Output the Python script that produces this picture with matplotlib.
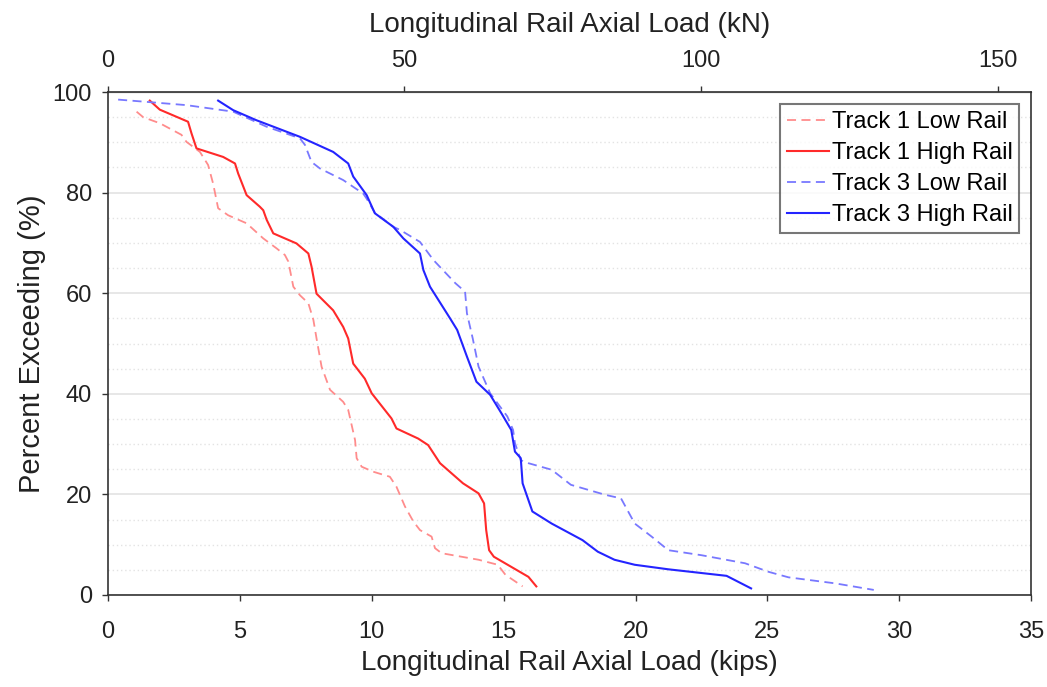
import numpy as np
import matplotlib
matplotlib.use('Agg')
from matplotlib import pyplot as plt
from matplotlib.ticker import MultipleLocator

KN_PER_KIP = 4.448

# Track 1 low rail
t1_low_kips = [1.09, 1.34, 1.97, 2.79, 2.98, 3.49, 3.80, 3.99, 4.18, 4.56, 5.26, 5.89, 6.40, 6.71,
               6.84, 7.03, 7.28, 7.60, 7.79, 7.91, 8.10, 8.42, 8.92, 9.11, 9.37, 9.43, 9.62, 10.06,
               10.69, 10.94, 11.26, 11.58, 11.83, 12.27, 12.40, 12.65, 14.05, 14.78, 15.07, 15.72]
t1_low_pct = [96.1, 95.0, 93.8, 91.5, 90.1, 88.1, 85.5, 81.8, 76.9, 75.5, 73.9, 70.9, 68.9, 67.6,
              66.3, 61.3, 59.6, 58.0, 54.7, 51.0, 45.4, 40.8, 38.4, 36.8, 30.8, 27.2, 25.5, 24.5,
              23.5, 21.5, 17.6, 14.6, 12.9, 11.6, 9.3, 8.3, 7.0, 6.0, 4.0, 1.7]

# Track 1 high rail
t1_high_kips = [1.59, 1.97, 3.04, 3.17, 3.36, 4.37, 4.82, 4.94, 5.26, 5.76, 5.89, 6.02, 6.27, 7.15,
                7.60, 7.72, 7.91, 8.54, 8.92, 9.11, 9.30, 9.74, 10.0, 10.75, 10.94, 11.76, 12.14,
                12.59, 13.46, 14.05, 14.26, 14.34, 14.45, 14.63, 15.94, 16.24]
t1_high_pct = [98.3, 96.5, 94.1, 91.8, 88.8, 87.1, 85.8, 83.8, 79.5, 77.2, 76.5, 74.6, 71.9, 69.9,
               67.9, 65.3, 59.9, 56.6, 53.3, 51.0, 46.0, 43.0, 40.1, 35.1, 33.1, 31.1, 29.8,
               26.2, 22.2, 20.2, 18.2, 12.9, 8.9, 7.6, 3.6, 1.7]

# Track 3 low rail
t3_low_kips = [0.39, 1.34, 2.98, 4.75, 6.02, 7.28, 7.47, 7.72, 8.04, 8.92, 9.68, 9.81, 10.12, 10.82,
               11.07, 11.83, 12.34, 12.70, 13.17, 13.54, 13.61, 13.83, 14.05, 14.49, 15.14, 15.36,
               15.43, 15.65, 15.94, 16.82, 17.55, 18.86, 19.45, 19.97, 20.61, 21.24, 22.50, 24.15,
               25.04, 25.80, 27.57, 29.03]
t3_low_pct = [98.5, 98.1, 97.4, 96.1, 93.1, 90.8, 89.5, 86.1, 84.8, 82.5, 79.8, 78.8, 76.0, 73.2,
              72.6, 70.2, 66.6, 64.6, 62.0, 60.3, 56.0, 51.0, 45.4, 40.1, 35.5, 32.8,
              30.2, 26.8, 26.2, 24.9, 21.9, 19.9, 19.2, 14.2, 11.6, 8.9, 7.9, 6.3,
              4.6, 3.5, 2.3, 1.0]

# Track 3 high rail
t3_high_kips = [4.18, 4.75, 5.63, 7.28, 8.54, 9.11, 9.30, 9.81, 10.12, 10.82, 11.20, 11.83, 11.96,
                12.21, 12.97, 13.24, 13.61, 13.97, 14.49, 14.92, 15.29, 15.43, 15.65, 15.72, 16.09,
                16.82, 17.99, 18.57, 19.20, 19.97, 21.24, 23.45, 24.38]
t3_high_pct = [98.3, 96.4, 94.4, 91.1, 88.1, 85.8, 83.2, 79.5, 75.9, 73.2, 70.9, 67.9, 64.6,
               61.3, 55.0, 52.7, 47.4, 42.4, 39.8, 36.1, 32.8, 28.5, 27.2, 22.2, 16.6,
               14.2, 10.9, 8.6, 7.0, 6.0, 5.1, 3.8, 1.3]


def main():
    plt.rcParams['font.family'] = ['Liberation Sans', 'DejaVu Sans']
    fig = plt.figure(figsize=(10.47, 6.87), dpi=100)
    ax = fig.add_axes([0.103, 0.134, 0.882, 0.732])

    ax.plot(t1_low_kips, t1_low_pct, color='#ff8c8c', lw=1.3, ls=(0, (5, 3)), label='Track 1 Low Rail')
    ax.plot(t1_high_kips, t1_high_pct, color='#ff2a2a', lw=1.5, label='Track 1 High Rail')
    ax.plot(t3_low_kips, t3_low_pct, color='#7878ff', lw=1.3, ls=(0, (5, 3)), label='Track 3 Low Rail')
    ax.plot(t3_high_kips, t3_high_pct, color='#2424ff', lw=1.5, label='Track 3 High Rail')

    ax.set_xlim(0, 35)
    ax.set_ylim(0, 100)
    ax.xaxis.set_major_locator(MultipleLocator(5))
    ax.yaxis.set_major_locator(MultipleLocator(20))
    ax.yaxis.set_minor_locator(MultipleLocator(5))
    ax.grid(axis='y', which='major', color='#e3e3e3', lw=1.2)
    ax.grid(axis='y', which='minor', color='#e3e3e3', lw=1.0, ls=(0, (1, 2)))
    ax.set_axisbelow(True)
    ax.tick_params(which='major', direction='out', length=4.5, width=1, labelsize=17,
                   color='#333333', labelcolor='#222222')
    ax.tick_params(axis='x', pad=14)
    ax.tick_params(axis='y', pad=7)
    ax.tick_params(which='minor', length=0)
    for sp in ax.spines.values():
        sp.set_color('#333333')
        sp.set_linewidth(1.2)

    ax.set_xlabel('Longitudinal Rail Axial Load (kips)', fontsize=20, labelpad=5, color='#222222')
    ax.set_ylabel('Percent Exceeding (%)', fontsize=21, labelpad=5, color='#222222')

    top = ax.secondary_xaxis('top', functions=(lambda k: k * KN_PER_KIP, lambda n: n / KN_PER_KIP))
    top.set_xticks([0, 50, 100, 150])
    top.tick_params(direction='out', length=4.5, width=1, labelsize=17, pad=10,
                    color='#333333', labelcolor='#222222')
    top.set_xlabel('Longitudinal Rail Axial Load (kN)', fontsize=20, labelpad=13, color='#222222')

    leg = ax.legend(loc='upper right', fontsize=17, frameon=True, fancybox=False,
                    edgecolor='#555555', handlelength=1.8, handletextpad=0.1,
                    labelspacing=0.38, borderpad=0.3, borderaxespad=0.5)
    leg.get_frame().set_linewidth(1.5)

    fig.savefig('out.png', dpi=100)


if __name__ == '__main__':
    main()
